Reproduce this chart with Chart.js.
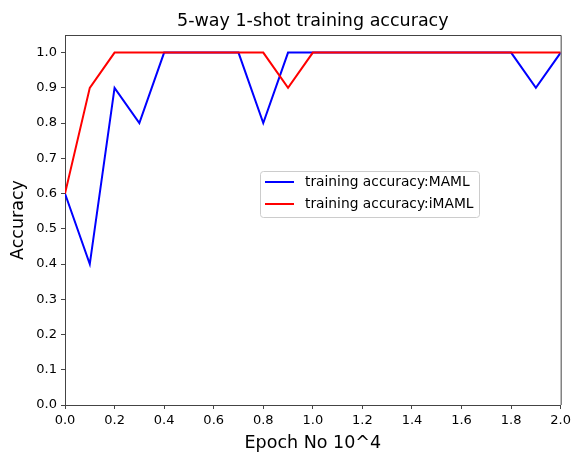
<!DOCTYPE html>
<html>
<head>
<meta charset="utf-8">
<script src="https://cdn.jsdelivr.net/npm/chart.js@4.4.1/dist/chart.umd.min.js"></script>
<style>
  html, body { margin: 0; padding: 0; background: #fff; }
  #wrap { width: 575px; height: 455px; position: relative; }
</style>
</head>
<body>
<div id="wrap"><canvas id="accChart"></canvas></div>
<script>
/* Data */
const epochs = [0.0, 0.1, 0.2, 0.3, 0.4, 0.5, 0.6, 0.7, 0.8, 0.9, 1.0,
                1.1, 1.2, 1.3, 1.4, 1.5, 1.6, 1.7, 1.8, 1.9, 2.0];
const maml_acc = [0.6, 0.4, 0.9, 0.8, 1.0, 1.0, 1.0, 1.0, 0.8, 1.0, 1.0,
                  1.0, 1.0, 1.0, 1.0, 1.0, 1.0, 1.0, 1.0, 0.9, 1.0];
const imaml_acc = [0.6, 0.9, 1.0, 1.0, 1.0, 1.0, 1.0, 1.0, 1.0, 0.9, 1.0,
                   1.0, 1.0, 1.0, 1.0, 1.0, 1.0, 1.0, 1.0, 1.0, 1.0];
const series_labels = ['training accuracy:MAML', 'training accuracy:iMAML'];
const chart_title = '5-way 1-shot training accuracy';

const fontFamily = '"DejaVu Sans", sans-serif';
const spineColor = '#444';

function toPoints(xs, ys) {
  return xs.map((x, i) => ({ x: x, y: ys[i] }));
}

// title, frame and legend drawn like matplotlib
const mplExtras = {
  id: 'mplExtras',
  afterDatasetsDraw(chart) {
    const ctx = chart.ctx;
    const a = chart.chartArea;
    ctx.save();
    // top and right spines
    ctx.strokeStyle = spineColor;
    ctx.lineWidth = 1;
    ctx.beginPath();
    ctx.moveTo(a.left, a.top + 0.5);
    ctx.lineTo(a.right + 0.5, a.top + 0.5);
    ctx.lineTo(a.right + 0.5, a.bottom);
    ctx.stroke();

    // title
    ctx.fillStyle = '#000';
    ctx.font = '17.5px ' + fontFamily;
    ctx.textAlign = 'center';
    ctx.textBaseline = 'middle';
    ctx.fillText(chart_title, (a.left + a.right) / 2, 21);

    // legend box
    const bx = 260.5, by = 171.5, bw = 219, bh = 46;
    ctx.beginPath();
    ctx.roundRect(bx, by, bw, bh, 3);
    ctx.fillStyle = 'rgba(255,255,255,0.8)';
    ctx.fill();
    ctx.strokeStyle = '#cccccc';
    ctx.stroke();
    const colors = chart.data.datasets.map(d => d.borderColor);
    ctx.font = '13.8px ' + fontFamily;
    ctx.textAlign = 'left';
    series_labels.forEach((lab, i) => {
      const yy = 182 + i * 22;
      ctx.strokeStyle = colors[i];
      ctx.lineWidth = 2;
      ctx.beginPath();
      ctx.moveTo(265, yy);
      ctx.lineTo(294, yy);
      ctx.stroke();
      ctx.fillStyle = '#000';
      ctx.fillText(lab, 305, yy);
    });
    ctx.restore();
  }
};

const canvasAcc = document.getElementById('accChart');
const ctxAcc = canvasAcc.getContext('2d');

const accChart = new Chart(ctxAcc, {
  type: 'line',
  data: {
    datasets: [{
      label: series_labels[0],
      data: toPoints(epochs, maml_acc),
      borderColor: '#0000ff',
      borderWidth: 2,
      pointRadius: 0,
      fill: false,
      order: 2
    },
    {
      label: series_labels[1],
      data: toPoints(epochs, imaml_acc),
      borderColor: '#ff0000',
      borderWidth: 2,
      pointRadius: 0,
      fill: false,
      order: 1
    }]
  },
  options: {
    responsive: true,
    maintainAspectRatio: false,
    animation: false,
    layout: { padding: { top: 35, right: 14, left: 0, bottom: 0 } },
    plugins: {
      legend: { display: false },
      tooltip: { enabled: false }
    },
    scales: {
      x: {
        type: 'linear',
        min: 0,
        max: 2,
        title: {
          display: true,
          text: 'Epoch No 10^4',
          color: '#000',
          font: { family: fontFamily, size: 17.5 },
          padding: { top: 0, bottom: 1 }
        },
        border: { display: true, color: spineColor, width: 1 },
        grid: { drawOnChartArea: false, drawTicks: true, tickLength: 4, color: spineColor },
        ticks: {
          stepSize: 0.2,
          color: '#000',
          padding: 4,
          maxRotation: 0,
          font: { family: fontFamily, size: 13 },
          callback: v => v.toFixed(1)
        },
        afterFit: scale => { scale.height = 50; }
      },
      y: {
        min: 0,
        max: 1.05,
        title: {
          display: true,
          text: 'Accuracy',
          color: '#000',
          font: { family: fontFamily, size: 17.5 },
          padding: { top: 8, bottom: 4 }
        },
        border: { display: true, color: spineColor, width: 1 },
        grid: { drawOnChartArea: false, drawTicks: true, tickLength: 4, color: spineColor },
        ticks: {
          stepSize: 0.1,
          color: '#000',
          padding: 4,
          font: { family: fontFamily, size: 13 },
          callback: v => v.toFixed(1)
        },
        afterBuildTicks: scale => {
          scale.ticks = scale.ticks.filter(t => t.value <= 1.0001);
        },
        afterFit: scale => { scale.width = 65; }
      }
    }
  },
  plugins: [mplExtras]
});
</script>
</body>
</html>
